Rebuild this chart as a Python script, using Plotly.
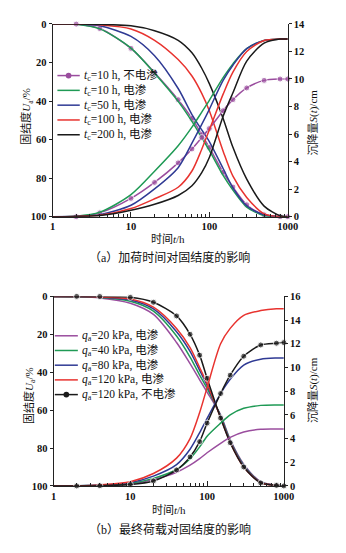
import plotly.graph_objects as go

# ---------------- (a) loading time ----------------
t_a = [1, 2, 4, 10, 20, 40, 60, 80, 100, 150, 200, 300, 500, 800, 1000]

# consolidation degree U (%), left axis (reversed)
U_a_noeo = [0, 0.1, 2.4, 12.7, 25.3, 39.3, 49, 57.4, 64.1, 77, 84.6, 93.8, 99, 100, 100]
U_a_10 = [0, 0.2, 2.6, 12.6, 25.6, 40.2, 50.6, 59, 65.6, 78.6, 86.2, 95, 99.5, 100, 100]
U_a_50 = [0, 0.1, 1.0, 6.5, 16.5, 33.5, 47, 55, 61, 75, 85, 94.3, 99, 100, 100]
U_a_100 = [0, 0.05, 0.5, 2.6, 8.5, 18.5, 27, 36, 45, 66, 79, 90, 98.5, 100, 100]
U_a_200 = [0, 0, 0.2, 1.0, 3.5, 8.5, 15, 23, 31, 49, 64, 80.5, 94.5, 99.5, 100]

# settlement S (cm), right axis
S_a_noeo = [0, 0, 0.28, 1.33, 2.49, 3.91, 4.92, 5.75, 6.4, 7.7, 8.5, 9.35, 9.9, 10.0, 10.0]
S_a_10 = [0, 0.03, 0.32, 1.6, 3.3, 5.15, 6.5, 7.6, 8.45, 10.1, 11.1, 12.2, 12.8, 12.9, 12.9]
S_a_50 = [0, 0.03, 0.15, 0.83, 2.02, 3.56, 5.34, 6.7, 7.8, 9.9, 11.0, 12.2, 12.8, 12.9, 12.9]
S_a_100 = [0, 0.02, 0.1, 0.59, 1.3, 2.14, 3.32, 4.9, 6.3, 8.9, 10.5, 12.0, 12.8, 12.9, 12.9]
S_a_200 = [0, 0.01, 0.08, 0.47, 0.9, 1.54, 2.25, 3.2, 4.3, 7.3, 9.0, 11.3, 12.6, 12.9, 12.9]

names_a = ["<i>t</i><sub>c</sub>=10 h, 不电渗", "<i>t</i><sub>c</sub>=10 h, 电渗",
           "<i>t</i><sub>c</sub>=50 h, 电渗", "<i>t</i><sub>c</sub>=100 h, 电渗",
           "<i>t</i><sub>c</sub>=200 h, 电渗"]

# ---------------- (b) final load ----------------
t_b = [1, 2, 4, 10, 20, 40, 60, 80, 100, 150, 200, 300, 500, 800, 1000]

U_b_20 = [0, 0.2, 0.8, 3.6, 9.5, 24.3, 35.5, 44, 50.5, 62.5, 75.5, 88.5, 97.8, 99.7, 100]
U_b_40 = [0, 0.15, 0.6, 2.6, 7.8, 20.9, 32, 41.5, 48.5, 63, 76, 89, 98, 99.7, 100]
U_b_80 = [0, 0.1, 0.45, 1.9, 6.6, 18.6, 29, 39, 47, 63.5, 76.5, 89.5, 98.2, 99.7, 100]
U_b_120 = [0, 0.08, 0.35, 1.4, 5.7, 16.9, 27, 37.5, 46, 64, 77, 90, 98.3, 99.7, 100]
U_b_noeo = [0, 0, 0.05, 0.5, 3.1, 10.3, 20, 31, 43.2, 64.2, 77.2, 90, 98.4, 99.7, 100]

S_b_20 = [0, 0.01, 0.04, 0.19, 0.55, 1.16, 1.75, 2.3, 2.8, 3.6, 4.1, 4.55, 4.78, 4.8, 4.8]
S_b_40 = [0, 0.01, 0.05, 0.22, 0.64, 1.39, 2.3, 3.3, 4.2, 5.3, 6.0, 6.55, 6.8, 6.84, 6.84]
S_b_80 = [0, 0.02, 0.07, 0.28, 0.83, 1.8, 3.1, 4.5, 5.7, 7.8, 9.0, 10.2, 10.7, 10.8, 10.8]
S_b_120 = [0, 0.02, 0.09, 0.36, 1.05, 2.35, 4.0, 6.2, 8.3, 12.0, 13.3, 14.4, 14.8, 14.95, 14.95]
S_b_noeo = [0, 0, 0.02, 0.12, 0.42, 1.35, 2.45, 3.74, 5.3, 7.8, 9.35, 10.95, 11.9, 12.05, 12.1]

names_b = ["<i>q</i><sub>a</sub>=20 kPa, 电渗", "<i>q</i><sub>a</sub>=40 kPa, 电渗",
           "<i>q</i><sub>a</sub>=80 kPa, 电渗", "<i>q</i><sub>a</sub>=120 kPa, 电渗",
           "<i>q</i><sub>a</sub>=120 kPa, 不电渗"]

PURPLE = "#9a4d9e"
GREEN = "#1f9a55"
BLUE = "#2f3a94"
RED = "#e8332f"
BLACK = "#1a1a1a"

FONT = "Liberation Serif, Noto Sans CJK SC, serif"
W, H = 346, 553
fig = go.Figure()


def add_pair(t, U, S, color, xa, ya_l, ya_r, markers=False):
    mode = "lines+markers" if markers else "lines"
    msize = [0] + [6] * (len(t) - 1)
    common = dict(mode=mode, line=dict(color=color, width=1.5, shape="spline", smoothing=0.8),
                  marker=dict(size=msize, color=color), cliponaxis=False, showlegend=False)
    fig.add_trace(go.Scatter(x=t, y=U, xaxis=xa, yaxis=ya_l, **common))
    fig.add_trace(go.Scatter(x=t, y=S, xaxis=xa, yaxis=ya_r, **common))


series_a = [(U_a_noeo, S_a_noeo, PURPLE, True), (U_a_10, S_a_10, GREEN, False),
            (U_a_50, S_a_50, BLUE, False), (U_a_100, S_a_100, RED, False),
            (U_a_200, S_a_200, BLACK, False)]
series_b = [(U_b_20, S_b_20, PURPLE, False), (U_b_40, S_b_40, GREEN, False),
            (U_b_80, S_b_80, BLUE, False), (U_b_120, S_b_120, RED, False),
            (U_b_noeo, S_b_noeo, BLACK, True)]

for U, S, c, m in series_a:
    add_pair(t_a, U, S, c, "x", "y", "y2", m)
for U, S, c, m in series_b:
    add_pair(t_b, U, S, c, "x2", "y3", "y4", m)

tickfont = dict(family=FONT, size=10.5, color="#111", weight="bold")
axis_common = dict(showline=True, linecolor="#222", linewidth=1, showgrid=False,
                   zeroline=False, tickfont=tickfont, tickcolor="#222")

minor_vals = [m * 10 ** d for d in range(3) for m in range(2, 10)]
xcommon = dict(type="log", range=[0, 3], tickvals=[1, 10, 100, 1000],
               ticktext=["1", "10", "100", "1000"], ticks="inside", ticklen=5,
               minor=dict(tickmode="array", tickvals=minor_vals, ticks="inside",
                          ticklen=3, tickcolor="#222", showgrid=False),
               **axis_common)
ycommon = dict(range=[100, 0], tickvals=[0, 20, 40, 60, 80, 100], ticks="outside",
               ticklen=3, **axis_common)

fig.update_layout(
    width=W, height=H, margin=dict(l=0, r=0, t=0, b=0),
    paper_bgcolor="white", plot_bgcolor="white",
    font=dict(family=FONT, size=11, color="#111"),
    showlegend=False,
    xaxis=dict(domain=[51.7 / W, 296.7 / W], anchor="y", **xcommon),
    yaxis=dict(domain=[1 - 216 / H, 1 - 19.3 / H], anchor="x", **ycommon),
    yaxis2=dict(overlaying="y", side="right", anchor="x", range=[0, 14],
                tickvals=list(range(0, 15, 2)), ticks="outside", ticklen=3, **axis_common),
    xaxis2=dict(domain=[52.7 / W, 292.7 / W], anchor="y3", **xcommon),
    yaxis3=dict(domain=[1 - 490.7 / H, 1 - 297.3 / H], anchor="x2", **ycommon),
    yaxis4=dict(overlaying="y3", side="right", anchor="x2", range=[0, 16],
                tickvals=list(range(0, 17, 2)), ticks="outside", ticklen=3, **axis_common),
)


def label(x, y, text, angle=0, size=11, anchor="center"):
    fig.add_annotation(x=x / W, y=1 - y / H, xref="paper", yref="paper", text=text,
                       showarrow=False, textangle=angle, xanchor=anchor, yanchor="middle",
                       font=dict(family=FONT, size=size, color="#111"))


# legend keys, drawn in paper space
def legend(names, colors, marked, x0, x1, y0, step):
    for i, (name, c, m) in enumerate(zip(names, colors, marked)):
        y = y0 + step * i
        fig.add_shape(type="line", xref="paper", yref="paper", x0=x0 / W, x1=x1 / W,
                      y0=1 - y / H, y1=1 - y / H, line=dict(color=c, width=1.5))
        if m:
            xc = (x0 + x1) / 2
            fig.add_shape(type="circle", xref="paper", yref="paper",
                          x0=(xc - 3) / W, x1=(xc + 3) / W, y0=1 - (y + 3) / H,
                          y1=1 - (y - 3) / H, fillcolor=c, line=dict(color=c, width=0))
        label(x1 + 2, y, name, size=11.5, anchor="left")


legend(names_a, [s[2] for s in series_a], [s[3] for s in series_a], 56.7, 80, 72, 15.1)
legend(names_b, [s[2] for s in series_b], [s[3] for s in series_b], 54, 78, 337.5, 15)

label(172, 239, "时间<i>t</i>/h")
label(25, 113, "固结度<i>U</i><sub>a</sub>/%", angle=-90)
label(323, 120, "沉降量<i>S</i>(<i>t</i>)/cm", angle=-90)
label(173, 258, "（a）加荷时间对固结度的影响", size=12)

label(172.5, 515, "时间<i>t</i>/h")
label(27, 398, "固结度<i>U</i><sub>a</sub>/%", angle=-90)
label(323, 393, "沉降量<i>S</i>(<i>t</i>)/cm", angle=-90)
label(174, 535, "（b）最终荷载对固结度的影响", size=12)

fig.write_html("out.html")
